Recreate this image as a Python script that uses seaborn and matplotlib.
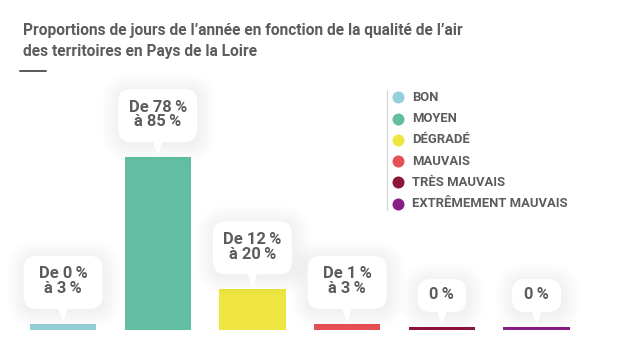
import numpy as np
import pandas as pd
import matplotlib
matplotlib.use("Agg")
import matplotlib.pyplot as plt
import seaborn as sns
from matplotlib.patches import FancyBboxPatch, Polygon
from matplotlib.transforms import IdentityTransform
from matplotlib.lines import Line2D
from matplotlib import font_manager

categories = ["BON", "MOYEN", "DÉGRADÉ", "MAUVAIS", "TRÈS MAUVAIS", "EXTRÊMEMENT MAUVAIS"]
bar_values = [3, 85, 20, 3, 0, 0]
labels = ["De 0\u2009%\nà 3\u2009%", "De 78\u2009%\nà 85\u2009%", "De 12\u2009%\nà 20\u2009%",
          "De 1\u2009%\nà 3\u2009%", "0\u2009%", "0\u2009%"]
colors = ["#93d0da", "#62bea3", "#efe540", "#e55155", "#8c1538", "#891d86"]
title_lines = ["Proportions de jours de l’année en fonction de la qualité de l’air",
               "des territoires en Pays de la Loire"]

sns.set_style("white")
names = {f.name for f in font_manager.fontManager.ttflist}
narrow = "Liberation Sans Narrow" if "Liberation Sans Narrow" in names else "Roboto"
plt.rcParams["font.family"] = ["Roboto", "DejaVu Sans"]

W, H = 620, 346
fig = plt.figure(figsize=(W / 72, H / 72), dpi=72)
fig.patch.set_facecolor("white")
ax = fig.add_axes([15.7 / W, 16 / H, (583.9 - 15.7) / W, 173 / H])

df = pd.DataFrame({"cat": categories, "val": np.maximum(bar_values, 1.45)})
sns.barplot(data=df, x="cat", y="val", hue="cat", palette=colors, width=0.7,
            saturation=1, linewidth=0, legend=False, ax=ax)
ax.set_xlim(-0.5, 5.5)
ax.set_ylim(0, 85)
ax.axis("off")

txt_col = "#5c5c5c"

# callouts
fig.canvas.draw()
ident = IdentityTransform()
for i, (v, lab) in enumerate(zip(df["val"], labels)):
    px, py = ax.transData.transform((i, v))
    two = "\n" in lab
    bw, bh = (79, 53) if two else (49, 33)
    gap = 15
    bx0, by0 = px - bw / 2, py + gap
    # soft shadow
    for k in range(14):
        pad = 1 + k * 1.3
        sh = FancyBboxPatch((bx0 - pad + 1, by0 - pad - 2), bw + 2 * pad, bh + 2 * pad,
                            boxstyle=f"round,pad=0,rounding_size={13 + pad}",
                            fc="black", ec="none", alpha=0.0055, transform=ident, zorder=5)
        fig.add_artist(sh)
    box = FancyBboxPatch((bx0, by0), bw, bh, boxstyle="round,pad=0,rounding_size=13",
                         fc="white", ec="none", transform=ident, zorder=6)
    fig.add_artist(box)
    tri = Polygon([(px - 5, by0 + 1), (px + 5, by0 + 1), (px, py + 1)], closed=True,
                  fc="white", ec="none", transform=ident, zorder=6)
    fig.add_artist(tri)
    fig.text((px) / W, (by0 + bh / 2 + 1) / H, lab, ha="center", va="center",
             multialignment="center", fontsize=16.5, fontweight="bold", color=txt_col,
             linespacing=1.0, zorder=7)

# title
fig.text(23 / W, 1 - 35 / H, title_lines[0], ha="left", va="baseline",
         fontsize=15.5, fontweight="bold", color=txt_col, family=[narrow, "DejaVu Sans"])
fig.text(23 / W, 1 - 56 / H, title_lines[1], ha="left", va="baseline",
         fontsize=15.5, fontweight="bold", color=txt_col, family=[narrow, "DejaVu Sans"])
fig.add_artist(Line2D([20 / W, 46 / W], [1 - 71 / H, 1 - 71 / H], color="#5c5c5c", lw=2))

# legend
fig.add_artist(Line2D([387 / W, 387 / W], [1 - 90 / H, 1 - 210 / H], color="#d5d5d5", lw=1.2))
for j, (c, name) in enumerate(zip(colors, categories)):
    yy = 1 - (97.5 + j * 21.2) / H
    fig.add_artist(Line2D([398 / W], [yy], marker="o", markersize=12, color=c, mec="none"))
    fig.text(412 / W, yy, name, ha="left", va="center", fontsize=13, fontweight="bold",
             color=txt_col, family=[narrow, "DejaVu Sans"])

fig.savefig("out.png", dpi=72, facecolor="white")
